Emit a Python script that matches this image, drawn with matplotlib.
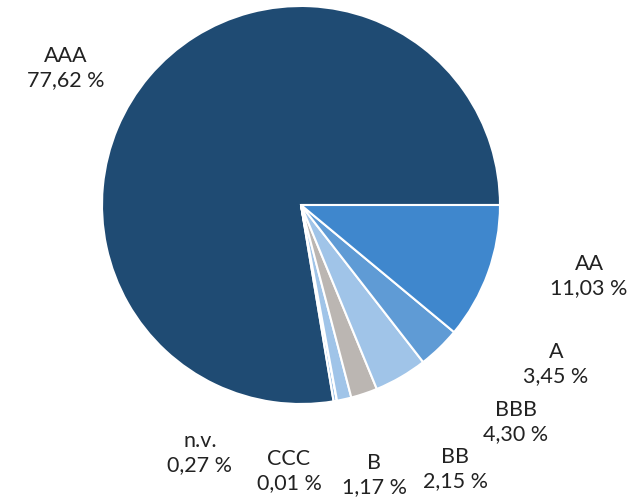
import matplotlib
matplotlib.use("Agg")
import matplotlib.pyplot as plt

# rating breakdown (share in %)
ratings = ["AAA", "n.v.", "CCC", "B", "BB", "BBB", "A", "AA"]
shares = [77.62, 0.27, 0.01, 1.17, 2.15, 4.30, 3.45, 11.03]
colors = ["#1f4b73", "#a0c4e8", "#1f4b73", "#a0c4e8", "#bbb6b2", "#a0c4e8", "#5f9bd5", "#3f87cd"]

# label anchor points (data units, radius = 1)
label_pos = [(-1.181, 0.693), (-0.508, -1.241), (-0.060, -1.332), (0.367, -1.352),
             (0.774, -1.322), (1.080, -1.085), (1.281, -0.794), (1.447, -0.352)]

plt.rcParams['font.family'] = ['Lato', 'DejaVu Sans']

fig = plt.figure(figsize=(6.35, 5.02), dpi=100)
ax = fig.add_axes([0, 0, 1, 1])
ax.pie(shares, colors=colors, startangle=0, counterclock=True,
       wedgeprops=dict(edgecolor="white", linewidth=1.5))

for name, val, (x, y) in zip(ratings, shares, label_pos):
    txt = name + "\n" + f"{val:.2f}".replace(".", ",") + " %"
    ax.text(x, y, txt, ha="center", va="center", fontsize=15.5, fontweight="normal",
            color="#222222", linespacing=1.28)

ax.set_xlim(-301 / 199, (635 - 301) / 199)
ax.set_ylim(-(502 - 206) / 199, 206 / 199)
ax.set_aspect("equal")
ax.axis("off")

fig.savefig("out.png", dpi=100)
